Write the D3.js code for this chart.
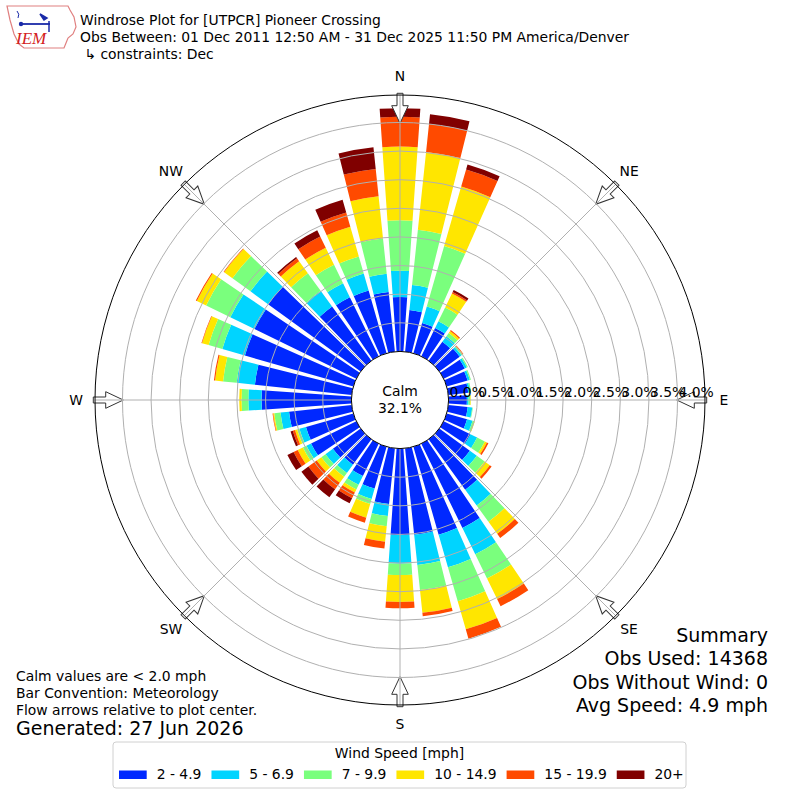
<!DOCTYPE html>
<html>
<head>
<meta charset="utf-8">
<script src="https://cdn.jsdelivr.net/npm/d3@7"></script>
<style>
  body { margin: 0; background: #fff; }
  svg { display: block; font-family: "DejaVu Sans", sans-serif; }
</style>
</head>
<body>
<div id="chart"></div>
<script>
const WIDTH = 800;
const HEIGHT = 800;
const CX = 400;
const CY = 400;
const CALM_R = 48.6;      // radius of the 0.0% ring (calm circle)
const OUTER_R = 305;      // frame of the polar axes
const R_MAX_PCT = 4.48;
const BAR_HALF = 4;       // bars fill 8 of every 10 degrees

// wind directions (deg, meteorological), bar centers
const directions = [0, 10, 20, 30, 40, 50, 60, 70, 80, 90, 100, 110, 120, 130, 140, 150, 160, 170,
    180, 190, 200, 210, 220, 230, 240, 250, 260, 270, 280, 290, 300, 310, 320, 330, 340, 350];

const speedBins = ["2 - 4.9", "5 - 6.9", "7 - 9.9", "10 - 14.9", "15 - 19.9", "20+"];
const binColors = ["#0028ff", "#00d4ff", "#7aff7d", "#ffe600", "#ff4a00", "#800000"];

// frequency (%) per direction for each speed bin
const speed2to5 = [0.95, 0.73, 0.55, 0.55, 0.41, 0.44, 0.41, 0.38, 0.35, 0.32, 0.34, 0.37, 0.52, 0.66, 1.09, 1.64, 1.60, 1.52,
    1.51, 0.98, 0.76, 0.63, 0.55, 0.60, 0.88, 0.86, 1.10, 1.57, 1.70, 1.97, 1.98, 2.00, 1.17, 1.15, 1.14, 1.05];
const speed5to7 = [0.46, 0.44, 0.30, 0.13, 0.12, 0.04, 0.04, 0.04, 0.03, 0.03, 0.08, 0.10, 0.13, 0.15, 0.34, 0.51, 0.59, 0.53,
    0.50, 0.21, 0.19, 0.17, 0.18, 0.16, 0.09, 0.12, 0.15, 0.23, 0.32, 0.41, 0.47, 0.38, 0.34, 0.27, 0.31, 0.32];
const speed7to10 = [0.88, 0.97, 1.10, 0.27, 0.07, 0.02, 0.02, 0.02, 0.02, 0.03, 0.01, 0.03, 0.15, 0.17, 0.35, 0.47, 0.62, 0.44,
    0.20, 0.18, 0.09, 0.09, 0.08, 0.09, 0.07, 0.04, 0.11, 0.12, 0.24, 0.25, 0.47, 0.39, 0.38, 0.36, 0.31, 0.62];
const speed10to15 = [1.29, 1.37, 1.08, 0.27, 0.04, 0.01, 0.00, 0.00, 0.00, 0.01, 0.00, 0.01, 0.04, 0.11, 0.26, 0.40, 0.51, 0.40,
    0.47, 0.27, 0.25, 0.06, 0.13, 0.10, 0.10, 0.04, 0.02, 0.04, 0.14, 0.12, 0.18, 0.18, 0.26, 0.33, 0.54, 0.74];
const speed15to20 = [0.52, 0.49, 0.31, 0.03, 0.02, 0.01, 0.00, 0.00, 0.00, 0.00, 0.00, 0.00, 0.03, 0.04, 0.09, 0.14, 0.17, 0.06,
    0.11, 0.12, 0.09, 0.11, 0.14, 0.18, 0.08, 0.04, 0.01, 0.00, 0.02, 0.01, 0.02, 0.01, 0.06, 0.22, 0.26, 0.48];
const speed20plus = [0.15, 0.17, 0.09, 0.04, 0.00, 0.00, 0.00, 0.00, 0.00, 0.00, 0.00, 0.00, 0.00, 0.00, 0.00, 0.00, 0.00, 0.00,
    0.00, 0.00, 0.00, 0.10, 0.17, 0.15, 0.12, 0.04, 0.00, 0.00, 0.00, 0.00, 0.00, 0.00, 0.03, 0.12, 0.23, 0.38];

const ringTicks = [0.0, 0.5, 1.0, 1.5, 2.0, 2.5, 3.0, 3.5, 4.0];
const compassLabels = ["N", "NE", "E", "SE", "S", "SW", "W", "NW"];
const compassAngles = [0, 45, 90, 135, 180, 225, 270, 315];
const calmPct = 32.1;

const titleLines = [
    "Windrose Plot for [UTPCR] Pioneer Crossing",
    "Obs Between: 01 Dec 2011 12:50 AM - 31 Dec 2025 11:50 PM America/Denver",
    " \u21b3 constraints: Dec",
];
const noteLines = ["Calm values are < 2.0 mph", "Bar Convention: Meteorology", "Flow arrows relative to plot center."];
const generatedLine = "Generated: 27 Jun 2026";
const summaryLines = ["Summary", "Obs Used: 14368", "Obs Without Wind: 0", "Avg Speed: 4.9 mph"];

const FONT = 13.9;
const BIG_FONT = 19;

const svg = d3.select('#chart').append('svg')
    .attr('width', WIDTH)
    .attr('height', HEIGHT);

svg.append('rect').attr('width', WIDTH).attr('height', HEIGHT).attr('fill', '#fff');

const r = d3.scaleLinear().domain([0, R_MAX_PCT]).range([CALM_R, OUTER_R]);
const toRad = (deg) => deg * Math.PI / 180;

const seriesList = [speed2to5, speed5to7, speed7to10, speed10to15, speed15to20, speed20plus];
const rows = directions.map((dir, i) => {
    const row = { dir };
    speedBins.forEach((b, k) => { row[b] = seriesList[k][i]; });
    return row;
});
const stacked = d3.stack().keys(speedBins)(rows);

const plot = svg.append('g').attr('transform', `translate(${CX},${CY})`);
const arc = d3.arc();

// stacked bars
plot.append('g')
    .selectAll('g')
    .data(stacked)
    .join('g')
    .attr('fill', (d, i) => binColors[i])
    .selectAll('path')
    .data((d) => d.filter((s) => s[1] - s[0] > 0))
    .join('path')
    .attr('d', (s) => arc({
        innerRadius: r(s[0]),
        outerRadius: r(s[1]),
        startAngle: toRad(s.data.dir - BAR_HALF),
        endAngle: toRad(s.data.dir + BAR_HALF),
    }));

// flow arrows at the frame, pointing to the center
const arrowPts = [[-3, -306.7], [3, -306.7], [3, -294.3], [8.3, -294.3], [0, -276.7], [-8.3, -294.3], [-3, -294.3]];
plot.append('g')
    .selectAll('polygon')
    .data(compassAngles)
    .join('polygon')
    .attr('points', arrowPts.map((p) => p.join(',')).join(' '))
    .attr('transform', (a) => `rotate(${a})`)
    .attr('fill', '#fff')
    .attr('stroke', '#333')
    .attr('stroke-width', 1);

// grid
const grid = plot.append('g').attr('fill', 'none').attr('stroke', '#b0b0b0').attr('stroke-width', 1);
grid.selectAll('circle')
    .data(ringTicks.filter((v) => v > 0))
    .join('circle')
    .attr('r', (v) => r(v));
grid.selectAll('line')
    .data(compassAngles)
    .join('line')
    .attr('x1', (a) => CALM_R * Math.sin(toRad(a)))
    .attr('y1', (a) => -CALM_R * Math.cos(toRad(a)))
    .attr('x2', (a) => OUTER_R * Math.sin(toRad(a)))
    .attr('y2', (a) => -OUTER_R * Math.cos(toRad(a)));

plot.append('circle').attr('r', OUTER_R).attr('fill', 'none').attr('stroke', '#000').attr('stroke-width', 1);

// calm circle
plot.append('circle').attr('r', CALM_R).attr('fill', '#fff').attr('stroke', '#000').attr('stroke-width', 1);
plot.append('text').attr('y', -4).attr('text-anchor', 'middle').attr('font-size', FONT).text('Calm');
plot.append('text').attr('y', 13).attr('text-anchor', 'middle').attr('font-size', FONT)
    .text(`${calmPct.toFixed(1)}%`);

// radial tick labels along east
plot.append('g')
    .selectAll('text')
    .data(ringTicks)
    .join('text')
    .attr('x', (v) => r(v) + 1)
    .attr('y', -3)
    .attr('font-size', FONT)
    .text((v) => `${d3.format('.1f')(v)}%`);

// compass labels
plot.append('g')
    .selectAll('text')
    .data(compassAngles)
    .join('text')
    .attr('x', (a) => 324 * Math.sin(toRad(a)))
    .attr('y', (a) => -324 * Math.cos(toRad(a)))
    .attr('text-anchor', 'middle')
    .attr('dominant-baseline', 'central')
    .attr('font-size', FONT)
    .text((a, i) => compassLabels[i]);

// header
svg.append('g')
    .selectAll('text')
    .data(titleLines)
    .join('text')
    .attr('x', 80)
    .attr('y', (d, i) => 25 + i * 17)
    .attr('font-size', FONT)
    .attr('xml:space', 'preserve')
    .style('white-space', 'pre')
    .text((d) => d);

// IEM logo (rough)
const logo = svg.append('g');
logo.append('path')
    .attr('d', 'M7,6 L68,6 L70,10 L74,17 L76,27 L73,34 L68,38 L66,43 L64,48 L24,48 L19,44 L14,34 L10,20 Z')
    .attr('fill', '#fff').attr('stroke', '#e08080').attr('stroke-width', 1.2);
logo.append('line').attr('x1', 20).attr('y1', 24).attr('x2', 50).attr('y2', 24)
    .attr('stroke', '#1a2aa8').attr('stroke-width', 1.8);
logo.append('circle').attr('cx', 21).attr('cy', 24).attr('r', 2.2).attr('fill', '#1a2aa8');
logo.append('path').attr('d', 'M40,14 L47,18 L44,20 Z').attr('fill', '#1a2aa8').attr('stroke', '#1a2aa8').attr('stroke-width', 1.5);
logo.append('line').attr('x1', 49).attr('y1', 21).attr('x2', 49).attr('y2', 32).attr('stroke', '#1a2aa8').attr('stroke-width', 1.5);
logo.append('path').attr('d', 'M17,11 Q20,14 18,18').attr('fill', 'none').attr('stroke', '#1a2aa8').attr('stroke-width', 1);
logo.append('text').attr('x', 16).attr('y', 44)
    .attr('font-family', '"Liberation Serif", serif')
    .attr('font-style', 'italic')
    .attr('font-size', 17)
    .attr('fill', '#d42020')
    .text('IEM');

// notes bottom-left
svg.append('g')
    .selectAll('text')
    .data(noteLines)
    .join('text')
    .attr('x', 16)
    .attr('y', (d, i) => 680.5 + i * 17)
    .attr('font-size', FONT)
    .text((d) => d);
svg.append('text').attr('x', 16).attr('y', 734.5).attr('font-size', BIG_FONT).text(generatedLine);

// summary bottom-right
svg.append('g')
    .selectAll('text')
    .data(summaryLines)
    .join('text')
    .attr('x', 768)
    .attr('y', (d, i) => 642 + i * 23.4)
    .attr('text-anchor', 'end')
    .attr('font-size', BIG_FONT)
    .text((d) => d);

// legend
const legend = svg.append('g');
legend.append('rect')
    .attr('x', 113).attr('y', 742).attr('width', 573).attr('height', 46).attr('rx', 3)
    .attr('fill', '#fff').attr('stroke', '#d0d0d0').attr('stroke-width', 1);
legend.append('text').attr('x', 399.5).attr('y', 758).attr('text-anchor', 'middle')
    .attr('font-size', FONT).text('Wind Speed [mph]');
let lx = 119;
speedBins.forEach((label, i) => {
    legend.append('rect').attr('x', lx).attr('y', 770.5).attr('width', 27.7).attr('height', 8.5).attr('fill', binColors[i]);
    const t = legend.append('text').attr('x', lx + 37.7).attr('y', 779).attr('font-size', FONT).text(label);
    lx += 37.7 + t.node().getComputedTextLength() + 10;
});
</script>
</body>
</html>
